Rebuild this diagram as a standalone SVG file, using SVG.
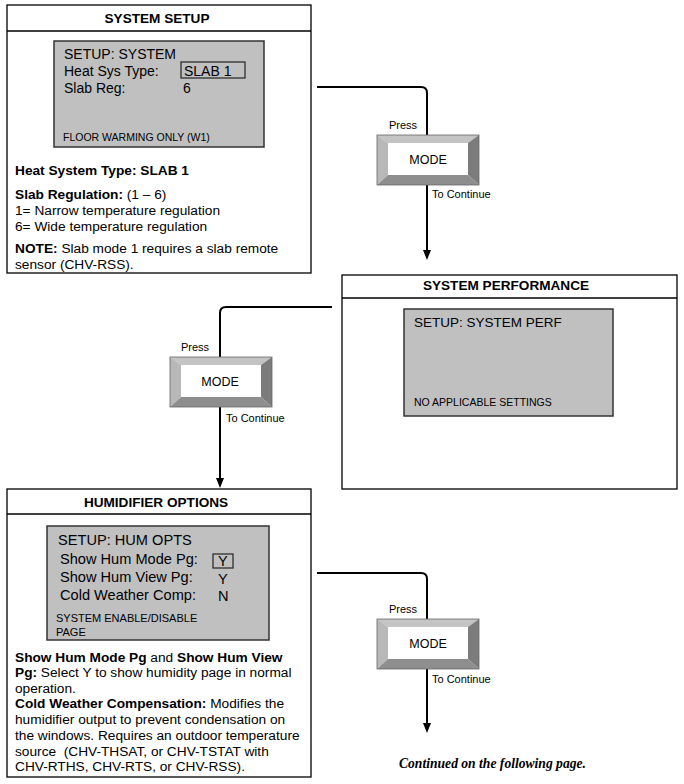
<svg xmlns="http://www.w3.org/2000/svg" width="684" height="784" viewBox="0 0 684 784">
<style>
.box{fill:#fff;stroke:#000;stroke-width:1.3}
.scr{fill:#c0c0c0;stroke:#333;stroke-width:1.5}
.hd{font-family:"Liberation Sans",Arial,sans-serif;font-weight:bold;font-size:13.6px;text-anchor:middle}
.s14{font-family:"Liberation Sans",Arial,sans-serif;font-size:14px}
.h14{font-family:"Liberation Sans",Arial,sans-serif;font-size:14.6px}
.s10{font-family:"Liberation Sans",Arial,sans-serif;font-size:10.5px}
.s11{font-family:"Liberation Sans",Arial,sans-serif;font-size:11px}
.t13{font-family:"Liberation Sans",Arial,sans-serif;font-size:13.7px}
.b{font-weight:bold}
.sm{font-family:"Liberation Sans",Arial,sans-serif;font-size:11px}
.mode{font-family:"Liberation Sans",Arial,sans-serif;font-size:12.5px;text-anchor:middle}
.con{fill:none;stroke:#000;stroke-width:2}
.fr{fill:none;stroke:#222;stroke-width:1.2}
</style>
<defs>
<marker id="ah" viewBox="0 0 10 8" refX="0" refY="4" markerWidth="10" markerHeight="8" markerUnits="userSpaceOnUse" orient="auto">
<path d="M0,0 L10,4 L0,8 Z" fill="#000"/>
</marker>
<g id="btn">
<polygon points="0,0 102,0 91,8 11,8" fill="#c4c4c4"/>
<polygon points="0,0 11,8 11,40 0,50" fill="#b8b8b8"/>
<polygon points="102,0 102,50 91,40 91,8" fill="#7c7c7c"/>
<polygon points="0,50 11,40 91,40 102,50" fill="#8e8e8e"/>
<rect x="11" y="8" width="80" height="32" fill="#fff"/>
<rect x="0" y="0" width="102" height="50" fill="none" stroke="#666" stroke-width="0.8"/>
</g>
</defs>

<g id="connectors">
<path class="con" d="M317,87 H421 Q427,87 427,93 V250" marker-end="url(#ah)"/>
<path class="con" d="M332,307 H226 Q220,307 220,313 V478" marker-end="url(#ah)"/>
<path class="con" d="M317,573 H421 Q427,573 427,579 V723" marker-end="url(#ah)"/>
</g>

<g id="system-setup">
<rect class="box" x="7" y="5" width="304" height="268"/>
<line x1="7" y1="31" x2="311" y2="31" stroke="#000" stroke-width="1.3"/>
<text class="hd" x="157" y="23">SYSTEM SETUP</text>
<rect class="scr" x="54" y="41" width="210" height="106"/>
<text class="s14" x="64" y="59">SETUP: SYSTEM</text>
<text class="s14" x="64" y="76">Heat Sys Type:</text>
<rect class="fr" x="181" y="62" width="64" height="16"/>
<text class="s14" x="184" y="76">SLAB 1</text>
<text class="s14" x="64" y="93">Slab Reg:</text>
<text class="s14" x="183" y="93">6</text>
<text class="s10" x="63" y="141">FLOOR WARMING ONLY (W1)</text>
<text class="t13 b" x="15" y="175">Heat System Type: SLAB 1</text>
<text class="t13" x="15" y="199"><tspan class="b">Slab Regulation:</tspan> (1 – 6)</text>
<text class="t13" x="15" y="215">1= Narrow temperature regulation</text>
<text class="t13" x="15" y="231">6= Wide temperature regulation</text>
<text class="t13" x="15" y="253"><tspan class="b">NOTE:</tspan> Slab mode 1 requires a slab remote</text>
<text class="t13" x="15" y="269">sensor (CHV-RSS).</text>
</g>

<g id="mode-1">
<use href="#btn" x="377" y="135"/>
<text class="sm" x="389" y="129">Press</text>
<text class="mode" x="428" y="164">MODE</text>
<text class="sm" x="432" y="198">To Continue</text>
</g>

<g id="system-performance">
<rect class="box" x="342" y="275" width="335" height="214"/>
<line x1="342" y1="298" x2="677" y2="298" stroke="#000" stroke-width="1.3"/>
<text class="hd" x="506" y="290">SYSTEM PERFORMANCE</text>
<rect class="scr" x="404" y="309" width="209" height="107"/>
<text x="414" y="327" font-family="'Liberation Sans',Arial,sans-serif" font-size="13.5px">SETUP: SYSTEM PERF</text>
<text class="s10" x="414" y="406">NO APPLICABLE SETTINGS</text>
</g>

<g id="mode-2">
<use href="#btn" x="170" y="357"/>
<text class="sm" x="181" y="351">Press</text>
<text class="mode" x="220" y="386">MODE</text>
<text class="sm" x="226" y="422">To Continue</text>
</g>

<g id="humidifier-options">
<rect class="box" x="7" y="489" width="304" height="288"/>
<line x1="7" y1="514" x2="311" y2="514" stroke="#000" stroke-width="1.3"/>
<text class="hd" x="156" y="507">HUMIDIFIER OPTIONS</text>
<rect class="scr" x="47" y="526" width="222" height="114"/>
<text class="h14" x="58" y="545">SETUP: HUM OPTS</text>
<text class="h14" x="60" y="564">Show Hum Mode Pg:</text>
<rect class="fr" x="213" y="554" width="20" height="14"/>
<text class="h14" x="218" y="566">Y</text>
<text class="h14" x="60" y="582">Show Hum View Pg:</text>
<text class="h14" x="218" y="584">Y</text>
<text class="h14" x="60" y="600">Cold Weather Comp:</text>
<text class="h14" x="218" y="601">N</text>
<text class="s11" x="56" y="622">SYSTEM ENABLE/DISABLE</text>
<text class="s11" x="56" y="636">PAGE</text>
<text class="t13" x="15" y="662"><tspan class="b">Show Hum Mode Pg</tspan> and <tspan class="b">Show Hum View</tspan></text>
<text class="t13" x="15" y="677"><tspan class="b">Pg:</tspan> Select Y to show humidity page in normal</text>
<text class="t13" x="15" y="693">operation.</text>
<text class="t13" x="15" y="708"><tspan class="b">Cold Weather Compensation:</tspan> Modifies the</text>
<text class="t13" x="15" y="724">humidifier output to prevent condensation on</text>
<text class="t13" x="15" y="740">the windows. Requires an outdoor temperature</text>
<text class="t13" x="15" y="756" xml:space="preserve">source  (CHV-THSAT, or CHV-TSTAT with</text>
<text class="t13" x="15" y="771">CHV-RTHS, CHV-RTS, or CHV-RSS).</text>
</g>

<g id="mode-3">
<use href="#btn" x="377" y="619"/>
<text class="sm" x="389" y="613">Press</text>
<text class="mode" x="428" y="648">MODE</text>
<text class="sm" x="432" y="683">To Continue</text>
</g>

<text x="399" y="768" font-family="'Liberation Serif','Times New Roman',serif" font-size="13.6px" font-weight="bold" font-style="italic">Continued on the following page.</text>
</svg>
